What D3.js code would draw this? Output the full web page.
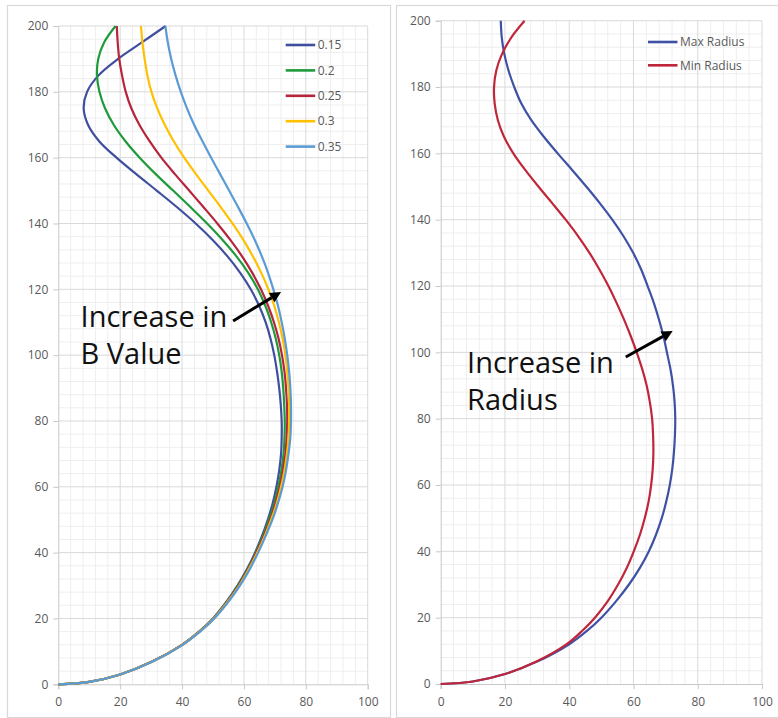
<!DOCTYPE html>
<html><head><meta charset="utf-8">
<script src="https://cdn.jsdelivr.net/npm/d3@7"></script>
<style>body{margin:0;background:#fff} svg{display:block}</style>
</head><body>
<svg id="c" width="778" height="718"></svg>
<script>
// ---------- DATA ----------
const heights = [0, 0.75, 3, 6.75, 12, 16, 20, 25, 30, 35, 40, 45, 50, 55, 60, 65, 70, 75, 80, 85, 90, 95,
  100, 105, 110, 115, 120, 125, 130, 135, 140, 145, 150, 155, 160, 165, 170, 175, 180, 185, 190, 195, 200];

const xB015 = [0, 10, 20, 30, 40, 45.5, 50.0, 54.3, 57.9, 61.0, 63.6, 65.8, 67.7, 69.3, 70.5, 71.4, 72.0, 72.2, 72.2, 71.9, 71.4, 70.7,
  69.8, 68.6, 67.0, 64.9, 62.2, 58.8, 54.7, 49.9, 44.4, 38.3, 31.8, 25.2, 18.8, 13.2, 9.6, 8.2, 9.3, 13.0, 19.3, 27.0, 34.7];
const xB020 = [0, 10, 20, 30, 40, 45.6, 50.1, 54.4, 58.1, 61.2, 63.8, 66.1, 68.1, 69.8, 71.1, 72.1, 72.8, 73.1, 73.2, 73.0, 72.7, 72.2,
  71.4, 70.3, 68.8, 66.9, 64.5, 61.4, 57.6, 53.1, 48.1, 42.7, 37.1, 31.5, 26.3, 21.7, 17.9, 15.1, 13.3, 12.5, 12.9, 14.8, 18.5];
const xB025 = [0, 10, 20, 30, 40, 45.6, 50.2, 54.5, 58.3, 61.4, 64.0, 66.4, 68.5, 70.2, 71.6, 72.6, 73.4, 73.8, 74.0, 73.9, 73.6, 73.1,
  72.3, 71.2, 69.7, 67.8, 65.5, 62.7, 59.4, 55.6, 51.4, 46.9, 42.3, 37.7, 33.3, 29.5, 26.2, 23.6, 21.8, 20.6, 19.7, 19.2, 18.9];
const xB030 = [0, 10, 20, 30, 40.1, 45.7, 50.3, 54.7, 58.5, 61.6, 64.3, 66.7, 68.8, 70.6, 72.0, 73.1, 73.9, 74.4, 74.6, 74.6, 74.4, 74.0,
  73.4, 72.5, 71.3, 69.8, 67.9, 65.6, 62.9, 59.8, 56.3, 52.5, 48.5, 44.5, 40.7, 37.3, 34.4, 32.0, 30.1, 28.8, 27.9, 27.2, 26.7];
const xB035 = [0, 10, 20, 30.1, 40.2, 45.8, 50.4, 54.9, 58.7, 61.9, 64.6, 67.0, 69.2, 71.0, 72.5, 73.6, 74.4, 75.0, 75.2, 75.2, 75.0, 74.6,
  74.0, 73.2, 72.2, 71.0, 69.5, 67.8, 65.8, 63.5, 60.9, 58.1, 55.2, 52.3, 49.4, 46.6, 43.9, 41.6, 39.6, 37.9, 36.5, 35.4, 34.6];

const maxRadius = [0, 10, 20, 30, 40, 45.5, 50.0, 54.6, 58.6, 62.0, 64.8, 67.0, 68.8, 70.2, 71.3, 72.1, 72.6, 72.9, 73.0, 72.8, 72.3, 71.5,
  70.4, 69.3, 67.9, 66.3, 64.4, 62.4, 59.9, 56.9, 53.4, 49.5, 45.3, 40.9, 36.4, 32.1, 28.2, 25.1, 22.9, 21.1, 19.8, 19.0, 18.7];
const minRadius = [0, 10, 20, 29.8, 39.2, 44.0, 48.0, 52.0, 55.2, 57.9, 60.1, 62.0, 63.5, 64.7, 65.5, 66.0, 66.2, 66.1, 65.8, 65.1, 64.1, 62.7,
  61.0, 59.1, 57.0, 54.7, 52.2, 49.4, 46.3, 42.8, 38.9, 34.7, 30.4, 26.3, 22.6, 19.7, 17.8, 16.8, 16.6, 17.3, 19.1, 22.0, 26.1];

const leftSeriesNames = ["0.15", "0.2", "0.25", "0.3", "0.35"];
const rightSeriesNames = ["Max Radius", "Min Radius"];
const xTicks = [0, 20, 40, 60, 80, 100];
const yTicks = [0, 20, 40, 60, 80, 100, 120, 140, 160, 180, 200];
const leftNote = ["Increase in", "B Value"];
const rightNote = ["Increase in", "Radius"];

// ---------- DRAW ----------
const svg = d3.select("#c");
const FONT = "'Open Sans', 'Noto Sans', sans-serif";

function panel(cfg) {
  const g = svg.append("g");
  g.append("rect").attr("x", cfg.frame[0]).attr("y", cfg.frame[1])
    .attr("width", cfg.frame[2] - cfg.frame[0]).attr("height", cfg.frame[3] - cfg.frame[1])
    .attr("fill", "#fff").attr("stroke", "#d9d9d9").attr("stroke-width", 1.2);

  const x = d3.scaleLinear().domain([0, 100]).range([cfg.left, cfg.right]);
  const y = d3.scaleLinear().domain([0, 200]).range([cfg.bottom, cfg.top]);

  // minor grid
  const minorX = d3.range(0, 101, 4).filter(v => v % 20 !== 0);
  const minorY = d3.range(0, 201, 4).filter(v => v % 20 !== 0);
  g.append("g").selectAll("line").data(minorX).join("line")
    .attr("x1", d => x(d)).attr("x2", d => x(d)).attr("y1", y(0)).attr("y2", y(200))
    .attr("stroke", "#eeeeee").attr("stroke-width", 1);
  g.append("g").selectAll("line").data(minorY).join("line")
    .attr("y1", d => y(d)).attr("y2", d => y(d)).attr("x1", x(0)).attr("x2", x(100))
    .attr("stroke", "#eeeeee").attr("stroke-width", 1);
  // major grid
  g.append("g").selectAll("line").data(xTicks.slice(1)).join("line")
    .attr("x1", d => x(d)).attr("x2", d => x(d)).attr("y1", y(0)).attr("y2", y(200))
    .attr("stroke", "#d9d9d9").attr("stroke-width", 1);
  g.append("g").selectAll("line").data(yTicks.slice(1)).join("line")
    .attr("y1", d => y(d)).attr("y2", d => y(d)).attr("x1", x(0)).attr("x2", x(100))
    .attr("stroke", "#d9d9d9").attr("stroke-width", 1);

  // axes
  const xAxis = d3.axisBottom(x).tickValues(xTicks).tickSize(5).tickPadding(8).tickFormat(d3.format("d"));
  const yAxis = d3.axisLeft(y).tickValues(yTicks).tickSize(5).tickPadding(5).tickFormat(d3.format("d"));
  const gx = g.append("g").attr("transform", `translate(0,${cfg.bottom})`).call(xAxis);
  const gy = g.append("g").attr("transform", `translate(${cfg.left},0)`).call(yAxis);
  [gx, gy].forEach(a => {
    a.select(".domain").attr("stroke", "#c8c8c8").attr("stroke-width", 1);
    a.selectAll(".tick line").attr("stroke", "#c8c8c8");
    a.selectAll("text").attr("fill", "#595959").attr("font-family", FONT).attr("font-size", 12);
  });
  gx.selectAll("text").attr("dy", "0.71em");

  // curves
  const line = d3.line().x(d => x(d[0])).y(d => y(d[1])).curve(d3.curveCatmullRom.alpha(0.5));
  cfg.series.forEach(s => {
    const pts = s.values.map((v, i) => [v, heights[i]]);
    g.append("path").attr("d", line(pts)).attr("fill", "none")
      .attr("stroke", s.color).attr("stroke-width", 2.2).attr("stroke-linejoin", "round");
  });

  // legend
  cfg.series.forEach((s, i) => {
    const ly = cfg.legend.y + i * cfg.legend.step;
    g.append("line").attr("x1", cfg.legend.x).attr("x2", cfg.legend.x + 29.5)
      .attr("y1", ly).attr("y2", ly).attr("stroke", s.color).attr("stroke-width", 2.6);
    g.append("text").attr("x", cfg.legend.x + 32).attr("y", ly).attr("dy", "0.35em")
      .attr("font-family", FONT).attr("font-size", 12).attr("fill", "#595959").text(s.name);
  });

  // annotation text
  cfg.note.lines.forEach((t, i) => {
    g.append("text").attr("x", x(cfg.note.x)).attr("y", y(cfg.note.y) + i * 37)
      .attr("font-family", FONT).attr("font-size", 29).attr("fill", "#111").text(t);
  });
  // arrow
  const x0 = x(cfg.arrow[0]), y0 = y(cfg.arrow[1]), x1 = x(cfg.arrow[2]), y1 = y(cfg.arrow[3]);
  const ang = Math.atan2(y1 - y0, x1 - x0), L = 11, W = 5.5;
  const bx = x1 - L * Math.cos(ang), by = y1 - L * Math.sin(ang);
  g.append("line").attr("x1", x0).attr("y1", y0).attr("x2", bx).attr("y2", by)
    .attr("stroke", "#000").attr("stroke-width", 3);
  g.append("path").attr("d", `M${x1},${y1}L${bx - W * Math.sin(ang)},${by + W * Math.cos(ang)}L${bx + W * Math.sin(ang)},${by - W * Math.cos(ang)}Z`)
    .attr("fill", "#000");
}

const leftColors = ["#3f4f9f", "#1f9a3a", "#b5253b", "#ffc000", "#5b9bd5"];
const leftValues = [xB015, xB020, xB025, xB030, xB035];
panel({
  frame: [7.5, 5.5, 390.5, 717.5],
  left: 58.3, right: 367.7, top: 26, bottom: 684.3,
  series: leftSeriesNames.map((n, i) => ({ name: n, color: leftColors[i], values: leftValues[i] })),
  legend: { x: 285.7, y: 45, step: 25.4 },
  note: { lines: leftNote, x: 7.2, y: 108.6 },
  arrow: [56.5, 110.4, 72.0, 119.2]
});

const rightColors = ["#3f51a5", "#c0263a"];
const rightValues = [maxRadius, minRadius];
panel({
  frame: [396.5, 5.5, 792, 717.5],
  left: 440.7, right: 762, top: 20.7, bottom: 684,
  series: rightSeriesNames.map((n, i) => ({ name: n, color: rightColors[i], values: rightValues[i] })),
  legend: { x: 648, y: 42, step: 23.3 },
  note: { lines: rightNote, x: 8.2, y: 93.8 },
  arrow: [57.6, 98.6, 72.2, 106.4]
});
</script>
</body></html>
